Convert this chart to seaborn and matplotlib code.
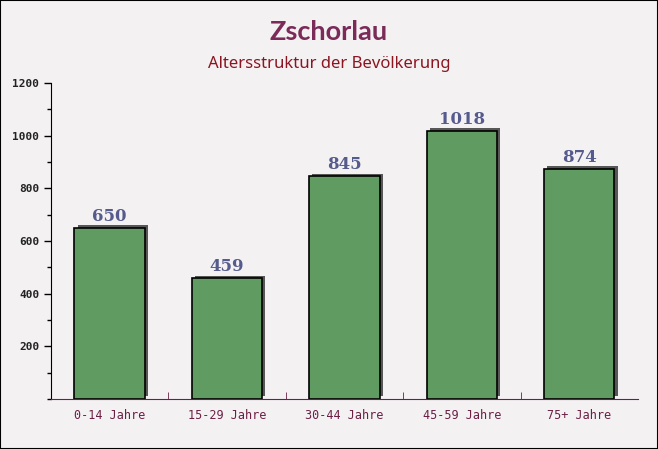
import matplotlib
matplotlib.use("Agg")
import matplotlib.pyplot as plt
import matplotlib.patheffects as pe
from matplotlib.ticker import MultipleLocator
import seaborn as sns
import pandas as pd

# data
age_groups = ["0-14 Jahre", "15-29 Jahre", "30-44 Jahre", "45-59 Jahre", "75+ Jahre"]
residents = [650, 459, 845, 1018, 874]

df = pd.DataFrame({"group": age_groups, "count": residents})

sns.set_style("white")
bg = "#f4f1f3"

fig = plt.figure(figsize=(6.58, 4.49), dpi=100, facecolor=bg)
ax = fig.add_axes([0.0775, 0.1114, 0.892, 0.7037])
ax.set_facecolor(bg)

sns.barplot(data=df, x="group", y="count", ax=ax, width=0.6,
            color="#609c62", edgecolor="black", linewidth=1.2, saturation=1)

for bar in ax.patches:
    bar.set_path_effects([pe.SimplePatchShadow(offset=(2.2, 1.8), shadow_rgbFace="#575757", alpha=1),
                          pe.Normal()])

for bar, v in zip(ax.patches, residents):
    ax.text(bar.get_x() + bar.get_width() / 2, v + 12, str(v), ha="center", va="bottom",
            fontsize=12, fontweight="bold", color="#555b8c", family="DejaVu Serif")

ax.set_ylim(0, 1200)
ax.set_xlim(-0.5, len(age_groups) - 0.5)
ax.yaxis.set_major_locator(MultipleLocator(200))
ax.yaxis.set_minor_locator(MultipleLocator(100))
ax.set_yticks([200, 400, 600, 800, 1000, 1200])
ax.set_xlabel("")
ax.set_ylabel("")

# ticks between categories on the x-axis
ax.set_xticks(range(len(age_groups)))
ax.set_xticklabels(age_groups, family="DejaVu Sans Mono", fontsize=8.5, color="#6b1f45")
ax.set_xticks([i + 0.5 for i in range(len(age_groups) - 1)], minor=True)
ax.tick_params(axis="x", which="major", length=0, pad=7)
ax.tick_params(axis="x", which="minor", length=5, direction="in", color="#6b1f45", bottom=True)
ax.tick_params(axis="y", which="both", left=True, direction="out", color="black", width=1)
ax.tick_params(axis="y", which="major", length=5, labelsize=8)
ax.tick_params(axis="y", which="minor", length=3)
for lbl in ax.get_yticklabels():
    lbl.set_family("DejaVu Sans Mono")
    lbl.set_fontweight("bold")
    lbl.set_color("#222222")

for s in ["top", "right"]:
    ax.spines[s].set_visible(False)
ax.spines["left"].set_color("black")
ax.spines["bottom"].set_color("#6b1f45")

fig.text(0.5, 0.929, "Zschorlau", ha="center", va="center", fontsize=19.5,
         fontweight="bold", color="#7a2b58", family="Lato")
fig.text(0.5, 0.857, "Altersstruktur der Bevölkerung", ha="center", va="center",
         fontsize=12, color="#8b1520", family="Noto Sans")

fig.patches.append(plt.Rectangle((0, 0), 1, 1, transform=fig.transFigure, fill=False,
                                 edgecolor="black", linewidth=1.5))

fig.savefig("out.png", dpi=100, facecolor=bg)
